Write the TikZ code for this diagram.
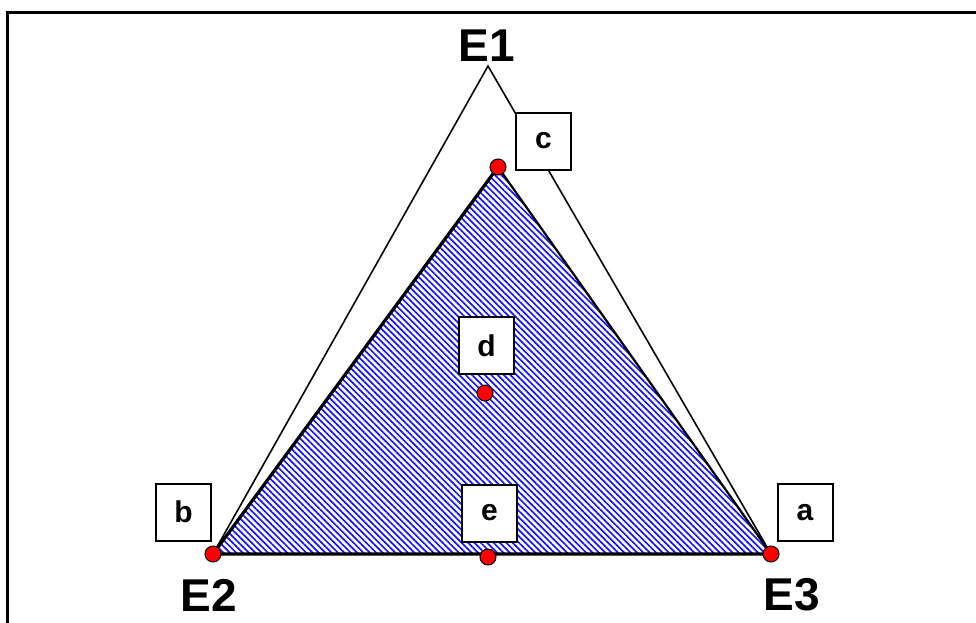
\documentclass[tikz,border=0pt]{standalone}
\usepackage{fontspec}
\setmainfont{Liberation Sans}
\usetikzlibrary{patterns.meta}
\definecolor{hatch}{RGB}{20,20,255}
\tikzset{
  big/.style={font=\fontsize{46}{50}\selectfont\bfseries, inner sep=0pt},
  lbox/.style={draw, fill=white, line width=2pt, minimum width=55pt, minimum height=57pt, inner sep=0pt, font=\fontsize{30}{34}\selectfont\bfseries},
  reddot/.style={circle, draw=black, line width=1pt, fill=red, minimum size=16pt, inner sep=0pt},
  thin edge/.style={line width=1.6pt},
  thick edge/.style={line width=3.2pt},
}
\begin{document}
\begin{tikzpicture}[x=1pt,y=-1pt]
\useasboundingbox (0,0) rectangle (976,622);
% frame
\coordinate (fbl) at (7,623);
\coordinate (ftl) at (7,12);
\coordinate (ftr) at (977,12);
\draw[line width=3pt] (fbl) -- (ftl) -- (ftr);
% vertices
\coordinate (E1v) at (488,66);
\coordinate (Cv) at (498,167);
\coordinate (Bv) at (213,554);
\coordinate (Av) at (771,554);
% hatched inner triangle
\fill[pattern={Lines[angle=-45, distance=4.5pt, line width=1.7pt]}, pattern color=hatch] (Cv) -- (Bv) -- (Av) -- cycle;
% outer triangle
\draw[thin edge, line join=miter] (Bv) -- (E1v) -- (Av);
% inner triangle edges
\draw[thick edge, line cap=round] (Cv) -- (Bv) -- (Av);
\draw[line width=2.2pt] (Cv) -- (Av);
% labels
\node[big] (E1) at (487,46) {E1};
\node[big] (E2) at (209,595) {E2};
\node[big] (E3) at (792,595) {E3};
% boxes
\node[lbox] (c) at (543.5,141) {c};
\node[lbox] (d) at (486.5,345.5) {d};
\node[lbox] (e) at (489.5,513) {e};
\node[lbox] (b) at (183.5,512) {b};
\node[lbox] (a) at (805,512.5) {a};
% dots
\node[reddot] (pc) at (Cv) {};
\node[reddot] (pb) at (Bv) {};
\node[reddot] (pa) at (Av) {};
\node[reddot] (pd) at (485,393) {};
\node[reddot] (pe) at (488,557) {};
\end{tikzpicture}
\end{document}
